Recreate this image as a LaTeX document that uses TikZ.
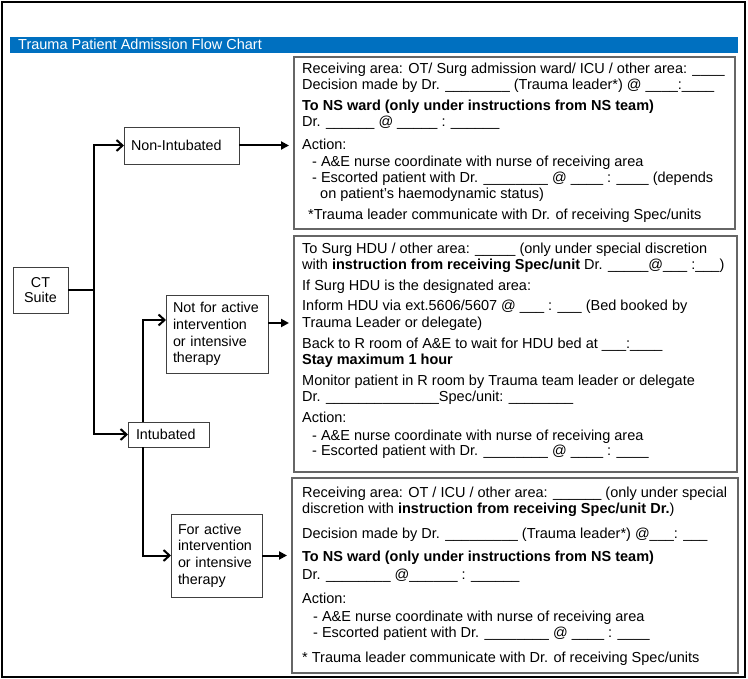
\documentclass[tikz,border=0pt]{standalone}
\usepackage{fontspec}
\setmainfont{Liberation Sans}
\usetikzlibrary{arrows.meta}
\definecolor{barblue}{HTML}{0070C0}
\newcommand\us[1]{\foreach \i in {1,...,#1}{\_}}
\begin{document}
\begin{tikzpicture}[x=1pt,y=-1pt,
  ln/.style={anchor=base west, inner sep=0pt, font=\fontsize{14.5}{16}\selectfont},
  lnb/.style={ln, font=\fontsize{14.5}{16}\selectfont\bfseries},
  lbox/.style={draw=black!75, line width=0.9pt, inner xsep=7pt, inner ysep=0pt, outer sep=0pt, align=left, font=\fontsize{14.3}{16.7}\selectfont},
  rbox/.style={draw=black!60, line width=1.2pt, inner sep=0pt, outer sep=0pt, anchor=north west},
  oarr/.style={draw, line width=2pt, -{Straight Barb[length=6pt,width=11pt]}},
  farr/.style={draw, line width=2pt, -{Triangle[length=8pt,width=8pt]}, shorten >=5pt}
]
\useasboundingbox (0,0) rectangle (748,679);
\draw[line width=1.5pt] (2,2) rectangle (745,677);
\fill[barblue] (10,37) rectangle (738,53);
\node[ln, text=white, font=\fontsize{14.5}{16}\selectfont] (title) at (18,50) {Trauma Patient Admission Flow Chart};

% right boxes
\node[rbox, minimum width=441pt, minimum height=172pt] (B1) at (294,57) {};
\node[rbox, minimum width=443pt, minimum height=236pt] (B2) at (294,236) {};
\node[rbox, minimum width=446pt, minimum height=195pt] (B3) at (292,478) {};

% left nodes
\node[lbox, align=center, text width=41pt, minimum height=46pt, font=\fontsize{14.3}{15}\selectfont] (CT) at (40.5,290) {CT\\Suite};
\node[lbox, text width=101pt, minimum height=37pt] (NonInt) at (181.5,145.5) {Non-Intubated};
\node[lbox, text width=88pt, minimum height=78pt] (NotFor) at (217,334) {Not for active\\intervention\\or intensive\\therapy};
\node[lbox, inner xsep=8pt, text width=65pt, minimum height=25pt] (Int) at (168.5,434.5) {Intubated};
\node[lbox, text width=77pt, minimum height=83pt] (ForAct) at (216.5,555.5) {For active\\intervention\\or intensive\\therapy};

% connectors
\coordinate (tr) at (94,290);
\coordinate (j1) at (143,320);
\coordinate (j2) at (143,555.5);
\coordinate (j3) at (268,323);
\draw[line width=2pt] (CT.east) -- (tr);
\draw[oarr] (tr) |- (NonInt.west);
\draw[oarr] (tr) |- (Int.west);
\draw[oarr] (Int.north -| j1) |- (NotFor.west |- j1);
\draw[oarr] (Int.south -| j2) |- (ForAct.west |- j2);
\draw[farr] (NonInt.east) -- (B1.west |- NonInt.east);
\draw[farr] (NotFor.east |- j3) -- (B2.west |- j3);
\draw[farr] (ForAct.east) -- (B3.west |- ForAct.east);

% box 1 text
\node[ln] (a1) at (302,74) {Receiving area: OT/ Surg admission ward/ ICU / other area: \us{4}};
\node[ln] (a2) at (302,90) {Decision made by Dr. \us{8} (Trauma leader*) @ \us{4}:\us{4}};
\node[lnb] (a3) at (302,111) {To NS ward (only under instructions from NS team)};
\node[ln] (a4) at (302,127) {Dr. \us{6} @ \us{5} : \us{6}};
\node[ln] (a5) at (302,150) {Action:};
\node[ln] (a6) at (312,167) {- A\&E nurse coordinate with nurse of receiving area};
\node[ln] (a7) at (312,183) {- Escorted patient with Dr. \us{8} @ \us{4} : \us{4} (depends};
\node[ln] (a8) at (320,199) {on patient's haemodynamic status)};
\node[ln] (a9) at (308,220) {*Trauma leader communicate with Dr. of receiving Spec/units};

% box 2 text
\node[ln] (b1) at (302,254) {To Surg HDU / other area: \us{5} (only under special discretion};
\node[ln] (b2) at (302,270) {with \textbf{instruction from receiving Spec/unit} Dr. \us{5}@\us{3} :\us{3})};
\node[ln] (b3) at (302,291) {If Surg HDU is the designated area:};
\node[ln] (b4) at (302,311) {Inform HDU via ext.5606/5607 @ \us{3} : \us{3} (Bed booked by};
\node[ln] (b5) at (302,328) {Trauma Leader or delegate)};
\node[ln] (b6) at (302,349) {Back to R room of A\&E to wait for HDU bed at \us{3}:\us{4}};
\node[lnb] (b7) at (302,365) {Stay maximum 1 hour};
\node[ln] (b8) at (302,386) {Monitor patient in R room by Trauma team leader or delegate};
\node[ln] (b9) at (302,402) {Dr. \us{14}Spec/unit: \us{8}};
\node[ln] (b10) at (302,423) {Action:};
\node[ln] (b11) at (312,440) {- A\&E nurse coordinate with nurse of receiving area};
\node[ln] (b12) at (312,456) {- Escorted patient with Dr. \us{8} @ \us{4} : \us{4}};

% box 3 text
\node[ln] (c1) at (302,497) {Receiving area: OT / ICU / other area: \us{6} (only under special};
\node[ln] (c2) at (302,513) {discretion with \textbf{instruction from receiving Spec/unit Dr.})};
\node[ln] (c3) at (302,538) {Decision made by Dr. \us{9} (Trauma leader*) @\us{3}: \us{3}};
\node[lnb] (c4) at (302,561) {To NS ward (only under instructions from NS team)};
\node[ln] (c5) at (302,579) {Dr. \us{8} @\us{6} : \us{6}};
\node[ln] (c6) at (302,603) {Action:};
\node[ln] (c7) at (313,621) {- A\&E nurse coordinate with nurse of receiving area};
\node[ln] (c8) at (313,637) {- Escorted patient with Dr. \us{8} @ \us{4} : \us{4}};
\node[ln] (c9) at (302,662) {* Trauma leader communicate with Dr. of receiving Spec/units};
\end{tikzpicture}
\end{document}
